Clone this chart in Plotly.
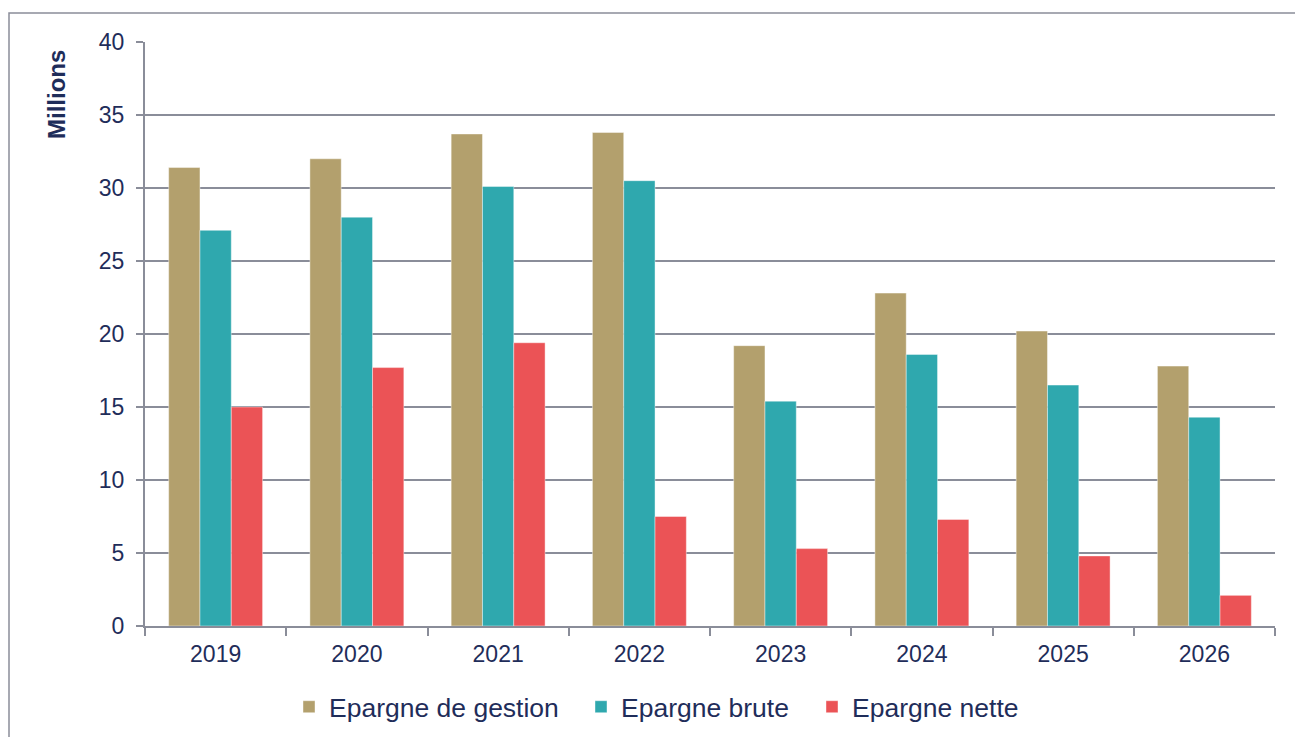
import plotly.graph_objects as go

years = ["2019", "2020", "2021", "2022", "2023", "2024", "2025", "2026"]
epargne_gestion = [31.4, 32.0, 33.7, 33.8, 19.2, 22.8, 20.2, 17.8]
epargne_brute = [27.1, 28.0, 30.1, 30.5, 15.4, 18.6, 16.5, 14.3]
epargne_nette = [15.0, 17.7, 19.4, 7.5, 5.3, 7.3, 4.8, 2.1]

series = [
    ("Epargne de gestion", epargne_gestion, "#B3A06D", "legend"),
    ("Epargne brute", epargne_brute, "#2FA8AE", "legend2"),
    ("Epargne nette", epargne_nette, "#EB5356", "legend3"),
]

text_color = "#1F2D5A"
grid_color = "#8A8D99"
L, R, T, B = 145, 20, 42, 111
W, H = 1295, 737
pw, ph = W - L - R, H - T - B

fig = go.Figure()
for name, vals, col, lg in series:
    fig.add_trace(go.Bar(x=years, y=vals, name=name, marker_color=col, legend=lg,
                         marker_line_width=0.6, marker_line_color="rgba(255,255,255,0.7)"))

def legend_at(text_start_px):
    return dict(orientation="h", x=(text_start_px - 40 - L) / pw, xanchor="left",
                y=(H - B - 707) / ph, yanchor="middle", bgcolor="rgba(0,0,0,0)",
                font=dict(size=26.5, color=text_color))

fig.update_layout(
    width=W, height=H,
    margin=dict(l=L, r=R, t=T, b=B, autoexpand=False),
    paper_bgcolor="white", plot_bgcolor="white",
    barmode="group", bargap=0.335, bargroupgap=0,
    font=dict(family="Liberation Sans, Arial, sans-serif", color=text_color, size=23),
    showlegend=True,
    legend=legend_at(329), legend2=legend_at(621), legend3=legend_at(852),
    xaxis=dict(type="category", showgrid=False, showline=True, linecolor=grid_color, linewidth=2,
               ticks="outside", tickson="boundaries", ticklen=8, tickcolor=grid_color, tickwidth=2,
               tickfont=dict(size=23, color=text_color), ticklabelstandoff=6, automargin=False),
    yaxis=dict(range=[0, 40], dtick=5, showgrid=True, gridcolor=grid_color, gridwidth=2,
               showline=True, linecolor=grid_color, linewidth=2, zeroline=False,
               ticks="outside", ticklen=7, tickcolor=grid_color, tickwidth=2,
               tickfont=dict(size=23, color=text_color), ticklabelstandoff=7, automargin=False),
    shapes=[dict(type="rect", xref="paper", yref="paper", x0=(9 - L) / pw, x1=1.2, y0=-0.4,
                 y1=(H - B - 13) / ph,
                 line=dict(color=grid_color, width=1.5), fillcolor="rgba(0,0,0,0)", layer="below")],
    annotations=[dict(text="<b>Millions</b>", xref="paper", yref="paper", x=(57 - L) / pw,
                      y=(H - B - 95) / ph,
                      textangle=-90, showarrow=False, font=dict(size=24, color=text_color),
                      xanchor="center", yanchor="middle")],
)

fig.write_html("out.html")
